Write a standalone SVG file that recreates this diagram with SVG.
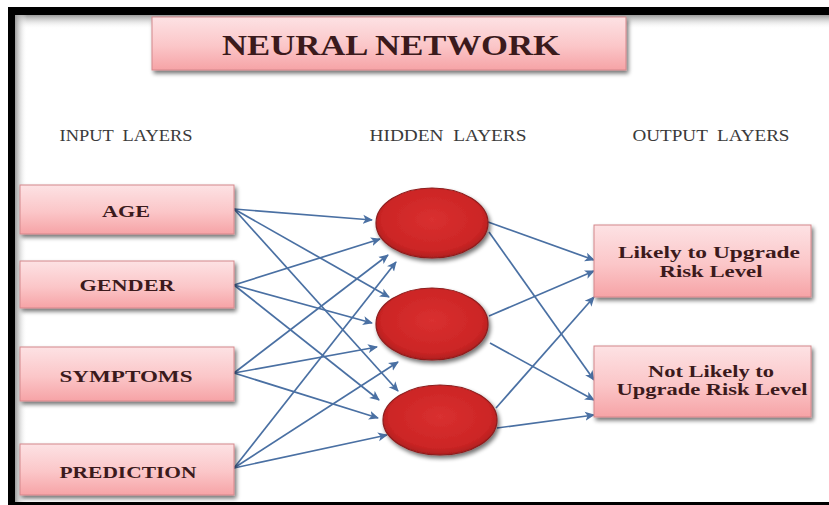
<svg xmlns="http://www.w3.org/2000/svg" width="829" height="505" viewBox="0 0 829 505">
  <defs>
    <linearGradient id="boxFill" x1="0" y1="0" x2="0" y2="1">
      <stop offset="0" stop-color="#fde2e4"/>
      <stop offset="0.55" stop-color="#fbc6c8"/>
      <stop offset="1" stop-color="#f6a3a6"/>
    </linearGradient>
    <radialGradient id="nodeFill" cx="0.5" cy="0.45" r="0.6">
      <stop offset="0" stop-color="#d93030"/>
      <stop offset="0.75" stop-color="#cc2525"/>
      <stop offset="1" stop-color="#9e1a1a"/>
    </radialGradient>
    <linearGradient id="shadeTop" x1="0" y1="0" x2="0" y2="1">
      <stop offset="0" stop-color="#9a9a9a"/>
      <stop offset="1" stop-color="#ffffff" stop-opacity="0"/>
    </linearGradient>
    <linearGradient id="shadeLeft" x1="0" y1="0" x2="1" y2="0">
      <stop offset="0" stop-color="#9a9a9a"/>
      <stop offset="1" stop-color="#ffffff" stop-opacity="0"/>
    </linearGradient>
    <filter id="drop" x="-10%" y="-20%" width="125%" height="150%">
      <feGaussianBlur in="SourceAlpha" stdDeviation="2"/>
      <feOffset dx="2" dy="3" result="b"/>
      <feComponentTransfer><feFuncA type="linear" slope="0.55"/></feComponentTransfer>
      <feMerge><feMergeNode/><feMergeNode in="SourceGraphic"/></feMerge>
    </filter>
    <marker id="head" viewBox="0 0 10 10" refX="9" refY="5" markerWidth="10" markerHeight="10" markerUnits="userSpaceOnUse" orient="auto">
      <path d="M0,0.5 L10,5 L0,9.5 L2.5,5 Z" fill="#4a70a3"/>
    </marker>
    <style>
      .box { fill: url(#boxFill); stroke: #d4878b; stroke-width: 1; filter: url(#drop); }
      .node { fill: url(#nodeFill); stroke: #8c1c1c; stroke-width: 1.2; filter: url(#drop); }
      .lbl { font-family: "Liberation Serif", "Times New Roman", serif; font-weight: bold; fill: #3b1a1c; text-anchor: middle; }
      .head { font-family: "Liberation Serif", "Times New Roman", serif; font-size: 17px; fill: #3a3a3a; text-anchor: middle; }
      .link { stroke: #4a70a3; stroke-width: 1.7; fill: none; marker-end: url(#head); }
    </style>
  </defs>

  <!-- page and frame -->
  <rect x="0" y="0" width="829" height="505" fill="#ffffff"/>
  <rect x="15" y="15" width="814" height="14" fill="url(#shadeTop)"/>
  <rect x="15" y="15" width="12" height="487" fill="url(#shadeLeft)"/>
  <rect x="8" y="7" width="821" height="8" fill="#000000"/>
  <rect x="8" y="7" width="7" height="498" fill="#000000"/>
  <rect x="8" y="502" width="821" height="3" fill="#000000"/>

  <!-- title -->
  <g id="title">
    <rect class="box" x="152" y="17" width="474" height="53"/>
    <text class="lbl" x="391" y="55" font-size="29" textLength="338" lengthAdjust="spacingAndGlyphs">NEURAL NETWORK</text>
  </g>

  <!-- column headings -->
  <g id="headings">
    <text class="head" x="126" y="141" xml:space="preserve" textLength="133" lengthAdjust="spacingAndGlyphs">INPUT  LAYERS</text>
    <text class="head" x="448" y="141" xml:space="preserve" textLength="157" lengthAdjust="spacingAndGlyphs">HIDDEN  LAYERS</text>
    <text class="head" x="711" y="141" xml:space="preserve" textLength="157" lengthAdjust="spacingAndGlyphs">OUTPUT  LAYERS</text>
  </g>

  <!-- connectors -->
  <g id="connectors">
    <!-- input to hidden -->
    <line class="link" x1="234" y1="209" x2="372" y2="220"/>
    <line class="link" x1="234" y1="209" x2="389" y2="297"/>
    <line class="link" x1="234" y1="209" x2="398" y2="391"/>
    <line class="link" x1="234" y1="285" x2="380" y2="239"/>
    <line class="link" x1="234" y1="285" x2="372" y2="323"/>
    <line class="link" x1="234" y1="285" x2="379" y2="400"/>
    <line class="link" x1="234" y1="373" x2="388" y2="255"/>
    <line class="link" x1="234" y1="373" x2="377" y2="347"/>
    <line class="link" x1="234" y1="373" x2="378" y2="418"/>
    <line class="link" x1="234" y1="468" x2="396" y2="262"/>
    <line class="link" x1="234" y1="468" x2="398" y2="362"/>
    <line class="link" x1="234" y1="468" x2="387" y2="435"/>
    <!-- hidden to output -->
    <line class="link" x1="488" y1="222" x2="594" y2="260"/>
    <line class="link" x1="489" y1="232" x2="594" y2="380"/>
    <line class="link" x1="489" y1="316" x2="594" y2="271"/>
    <line class="link" x1="490" y1="343" x2="594" y2="400"/>
    <line class="link" x1="496" y1="408" x2="594" y2="297"/>
    <line class="link" x1="497" y1="428" x2="594" y2="415"/>
  </g>

  <!-- input layer -->
  <g id="in-age">
    <rect class="box" x="20" y="185" width="214" height="49"/>
    <text class="lbl" x="126" y="217" font-size="17" textLength="48" lengthAdjust="spacingAndGlyphs">AGE</text>
  </g>
  <g id="in-gender">
    <rect class="box" x="20" y="261" width="214" height="47"/>
    <text class="lbl" x="127" y="291" font-size="17" textLength="95" lengthAdjust="spacingAndGlyphs">GENDER</text>
  </g>
  <g id="in-symptoms">
    <rect class="box" x="20" y="347" width="214" height="54"/>
    <text class="lbl" x="126" y="382" font-size="17" textLength="133" lengthAdjust="spacingAndGlyphs">SYMPTOMS</text>
  </g>
  <g id="in-prediction">
    <rect class="box" x="20" y="444" width="214" height="51"/>
    <text class="lbl" x="128" y="478" font-size="17" textLength="137" lengthAdjust="spacingAndGlyphs">PREDICTION</text>
  </g>

  <!-- hidden layer -->
  <g id="hidden-1">
    <ellipse class="node" cx="432" cy="223" rx="56" ry="35"/>
  </g>
  <g id="hidden-2">
    <ellipse class="node" cx="432" cy="324" rx="56" ry="36"/>
  </g>
  <g id="hidden-3">
    <ellipse class="node" cx="440" cy="420" rx="57" ry="35"/>
  </g>

  <!-- output layer -->
  <g id="out-likely">
    <rect class="box" x="594" y="225" width="217" height="72"/>
    <text class="lbl" x="709" y="258" font-size="17" textLength="182" lengthAdjust="spacingAndGlyphs">Likely to Upgrade</text>
    <text class="lbl" x="711" y="277" font-size="17" textLength="103" lengthAdjust="spacingAndGlyphs">Risk Level</text>
  </g>
  <g id="out-not-likely">
    <rect class="box" x="594" y="346" width="217" height="71"/>
    <text class="lbl" x="711" y="377" font-size="17" textLength="126" lengthAdjust="spacingAndGlyphs">Not Likely to</text>
    <text class="lbl" x="712" y="395" font-size="17" textLength="191" lengthAdjust="spacingAndGlyphs">Upgrade Risk Level</text>
  </g>
</svg>
